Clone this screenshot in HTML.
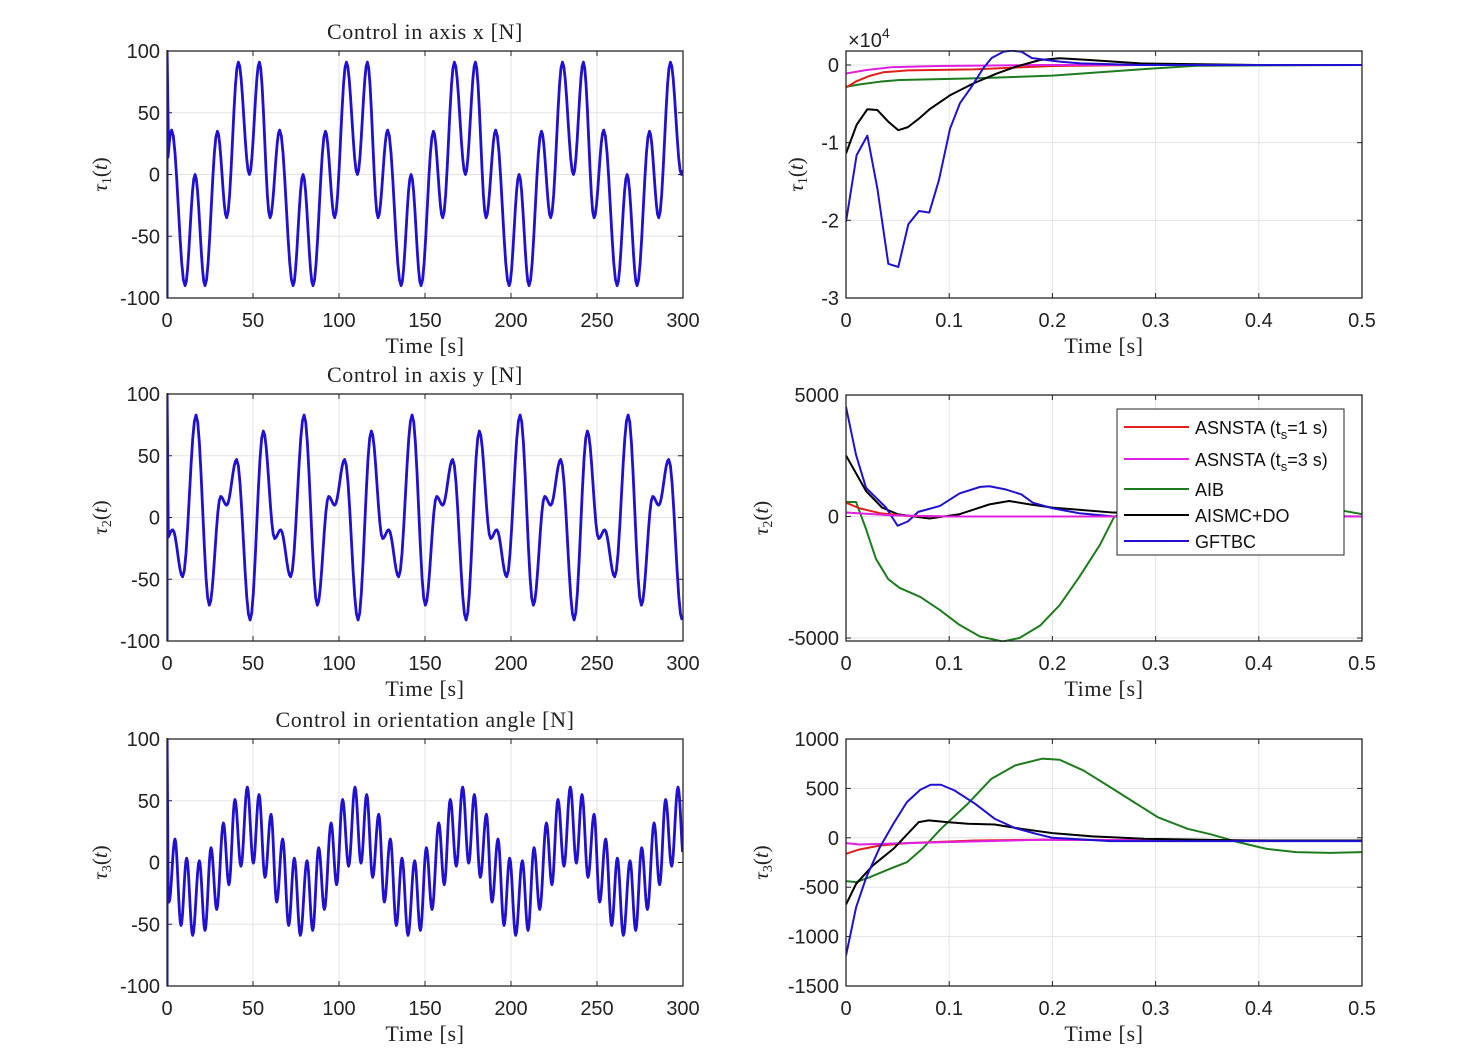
<!DOCTYPE html>
<html><head><meta charset="utf-8"><style>
body{margin:0;background:#fff;}
svg{display:block;}
text{font-family:"Liberation Sans",sans-serif;}
.serif{font-family:"Liberation Serif",serif;}
</style></head><body>
<svg id="fig" width="1467" height="1058" viewBox="0 0 1467 1058" xmlns="http://www.w3.org/2000/svg">
<rect width="1467" height="1058" fill="#fff"/>
</svg>
<script>
// ---- Left plots: one period of extrema (t, value), tiled by period
const ext1T=[2.7,10.5,16.3,22.1,29.3,34.7,41.5,47.9,53.7,59.9];
const ext1V=[36,-90,0,-90,35,-35,91,0,91,-35];
const ext2T=[3.3,9.1,16.9,24.6,31.2,34.7,40.5,48.3,56.0,62.6];
const ext2V=[-10,-48,83,-71,17,10,47,-83,70,-17];
const ext3T=[4.65,8.14,11.43,14.92,18.8,22.1,25.6,28.9,32.8,36.0,39.5,43.0,46.7,50.2,53.5,56.97,60.5,63.76];
const ext3V=[19,-51,3.5,-59,1.4,-55,12,-38,32,-18,51,-3,61,-0.5,55,-12,39,-32];
const periods=[62.8,62.8,62.6];
const leftTicksX=[0,50,100,150,200,250,300];
const leftTicksY=[-100,-50,0,50,100];
const rightTicksX=[0,0.1,0.2,0.3,0.4,0.5];
const r1TicksY=[-3,-2,-1,0];
const r2TicksY=[-5000,0,5000];
const r3TicksY=[-1500,-1000,-500,0,500,1000];
// ---- Right top (x1e4)
const r1BlueT=[0,0.0103,0.0207,0.0304,0.041,0.0507,0.0604,0.0707,0.0807,0.0901,0.1008,0.1105,0.1217,0.1331,0.1411,0.1525,0.16,0.1702,0.18,0.1944,0.207,0.227,0.285,0.5];
const r1BlueV=[-2.02,-1.16,-0.91,-1.59,-2.56,-2.6,-2.05,-1.88,-1.9,-1.48,-0.82,-0.49,-0.28,-0.04,0.09,0.17,0.185,0.17,0.09,0.064,0.043,0.02,0,0];
const r1BlackT=[0,0.0103,0.0207,0.0304,0.041,0.0507,0.06,0.0707,0.081,0.1008,0.123,0.146,0.165,0.188,0.207,0.236,0.285,0.4,0.5];
const r1BlackV=[-1.14,-0.77,-0.57,-0.58,-0.73,-0.84,-0.8,-0.69,-0.57,-0.39,-0.24,-0.11,-0.02,0.064,0.086,0.064,0.02,0,0];
const r1RedT=[0,0.01,0.023,0.036,0.06,0.124,0.2,0.285,0.5];
const r1RedV=[-0.29,-0.21,-0.14,-0.094,-0.07,-0.056,-0.013,0,0];
const r1MagT=[0,0.02,0.043,0.09,0.19,0.5];
const r1MagV=[-0.11,-0.065,-0.03,-0.013,0,0];
const r1GreenT=[0,0.0135,0.033,0.052,0.123,0.2,0.246,0.285,0.34,0.5];
const r1GreenV=[-0.28,-0.25,-0.215,-0.193,-0.172,-0.137,-0.094,-0.056,-0.01,0];
// ---- Right middle
const r2BlueT=[0,0.0097,0.0194,0.0388,0.05,0.06,0.07,0.091,0.11,0.13,0.139,0.155,0.17,0.181,0.2,0.226,0.26,0.5];
const r2BlueV=[4510,2540,1180,366,-380,-200,190,435,950,1220,1245,1110,910,570,340,136,0,0];
const r2BlackT=[0,0.0194,0.035,0.05,0.081,0.11,0.139,0.158,0.178,0.2,0.259,0.35,0.5];
const r2BlackV=[2510,1050,366,95,-80,95,500,640,500,366,163,60,0];
const r2RedT=[0,0.013,0.033,0.058,0.1,0.5];
const r2RedV=[570,340,136,27,0,0];
const r2MagT=[0,0.0426,0.1,0.5];
const r2MagV=[163,54,0,0];
const r2GreenT=[0,0.0097,0.0194,0.029,0.041,0.052,0.072,0.091,0.11,0.13,0.152,0.168,0.188,0.207,0.226,0.246,0.26,0.3,0.4,0.48,0.5];
const r2GreenV=[600,600,-515,-1740,-2580,-2940,-3310,-3850,-4460,-4940,-5140,-5000,-4490,-3650,-2490,-1170,0,500,600,250,100];
// ---- Right bottom
const r3BlueT=[0,0.0098,0.0197,0.0328,0.0459,0.059,0.072,0.082,0.092,0.105,0.125,0.144,0.164,0.184,0.2,0.256,0.5];
const r3BlueV=[-1192,-703,-399,-95,142,361,486,537,537,480,345,193,98,41,0,-34,-34];
const r3BlackT=[0,0.0098,0.026,0.046,0.0705,0.08,0.098,0.118,0.144,0.17,0.2,0.239,0.289,0.387,0.5];
const r3BlackV=[-676,-466,-280,-111,159,176,159,142,135,91,47,14,-10,-27,-27];
const r3RedT=[0,0.013,0.033,0.059,0.125,0.19,0.5];
const r3RedV=[-162,-118,-78,-54,-27,-20,-30];
const r3MagT=[0,0.013,0.059,0.19,0.5];
const r3MagV=[-54,-68,-54,-20,-30];
const r3GreenT=[0,0.0098,0.023,0.0426,0.059,0.074,0.092,0.118,0.141,0.164,0.19,0.207,0.23,0.256,0.279,0.302,0.331,0.354,0.38,0.407,0.436,0.469,0.5];
const r3GreenV=[-439,-449,-399,-314,-247,-111,91,345,598,733,801,790,682,513,361,209,91,34,-44,-111,-145,-152,-145];

const C={red:"#e0201a",mag:"#e020e0",green:"#1e7b1e",black:"#000",blue:"#2010d0"};
const NS="http://www.w3.org/2000/svg";
const svg=document.getElementById('fig');
function el(tag,attrs,parent){const e=document.createElementNS(NS,tag);for(const k in attrs)e.setAttribute(k,attrs[k]);(parent||svg).appendChild(e);return e;}

function makeAxes(name,x0,x1,y0,y1,xmin,xmax,ymin,ymax,xt,yt,xfmt,yfmt){
  const g=el('g',{});
  
  
  const sx=v=>x0+(v-xmin)/(xmax-xmin)*(x1-x0);
  const sy=v=>y1-(v-ymin)/(ymax-ymin)*(y1-y0);
  const grid=el('g',{},g);
  
  
  xt.forEach(v=>{el('line',{x1:sx(v),x2:sx(v),y1:y0,y2:y1,stroke:'#e3e3e3','stroke-width':1},grid);});
  yt.forEach(v=>{el('line',{x1:x0,x2:x1,y1:sy(v),y2:sy(v),stroke:'#e3e3e3','stroke-width':1},grid);});
  const xa=el('g',{},g);
  
  
  xt.forEach(v=>{
    el('line',{x1:sx(v),x2:sx(v),y1:y1,y2:y1-5,stroke:'#222'},xa);
    el('line',{x1:sx(v),x2:sx(v),y1:y0,y2:y0+5,stroke:'#222'},xa);
    const t=el('text',{x:sx(v),y:y1+29,'text-anchor':'middle','font-size':20,fill:'#222'},xa);t.textContent=xfmt(v);
  });
  const ya=el('g',{},g);
  
  
  yt.forEach(v=>{
    el('line',{x1:x0,x2:x0+5,y1:sy(v),y2:sy(v),stroke:'#222'},ya);
    el('line',{x1:x1,x2:x1-5,y1:sy(v),y2:sy(v),stroke:'#222'},ya);
    const t=el('text',{x:x0-7,y:sy(v)+7,'text-anchor':'end','font-size':20,fill:'#222'},ya);t.textContent=yfmt(v);
  });
  const plot=el('g',{},g);
  
  
  const clip=el('clipPath',{id:name+'-clip'},g);
  el('rect',{x:x0,y:y0-1,width:x1-x0,height:y1-y0+2},clip);
  plot.setAttribute('clip-path','url(#'+name+'-clip)');
  const box=el('rect',{x:x0,y:y0,width:x1-x0,height:y1-y0,fill:'none',stroke:'#262626','stroke-width':1.3},g);
  
  
  return {g,plot,sx,sy};
}
function drawLine(ax,name,T,V,color,w){
  const d=T.map((t,i)=>(i?'L':'M')+ax.sx(t).toFixed(2)+','+ax.sy(V[i]).toFixed(2)).join('');
  const p=el('path',{d:d,fill:'none',stroke:color,'stroke-width':w,'stroke-linejoin':'round'},ax.plot);
  
  
}
function periodicSeries(ET,EV,P,tmax){
  const T=[],V=[];const n=ET.length;
  const ts=[],vs=[];
  for(let k=-1;k*P<tmax+P;k++){for(let i=0;i<n;i++){ts.push(ET[i]+k*P);vs.push(EV[i]);}}
  for(let i=0;i<ts.length-1;i++){
    const a=ts[i],b=ts[i+1];
    for(let j=0;j<8;j++){const f=j/8;const t=a+(b-a)*f;if(t<0.3||t>tmax)continue;T.push(t);V.push(vs[i]+(vs[i+1]-vs[i])*(1-Math.cos(Math.PI*f))/2);}
  }
  return [T,V];
}
function txt(name,x,y,s,opts){const t=el('text',Object.assign({x:x,y:y},opts||{}));t.innerHTML=s;return t;}

const rows=[[51,298],[394,641],[739,986]];
const titles=['Control in axis x [N]','Control in axis y [N]','Control in orientation angle [N]'];
const exts=[[ext1T,ext1V],[ext2T,ext2V],[ext3T,ext3V]];
const startV=[[-100,100,36],[-100,100,-10],[-100,100,-30]];
const serifOpts={'text-anchor':'middle','font-size':22,class:'serif',fill:'#222','letter-spacing':'0.6'};
rows.forEach((r,i)=>{
  const ax=makeAxes('left-chart-'+(i+1),167,683,r[0],r[1],0,300,-100,100,leftTicksX,leftTicksY,v=>String(v),v=>String(v));
  const [T,V]=periodicSeries(exts[i][0],exts[i][1],periods[i],300);
  drawLine(ax,'tau'+(i+1)+'-spike',[0.15,0.15,0.8],startV[i],C.blue,2.5);
  drawLine(ax,'tau'+(i+1)+'-series',[0.8].concat(T),[startV[i][2]].concat(V),C.blue,2.8);
  txt('left-title-'+(i+1),425,r[0]-12,titles[i],serifOpts);
  txt('left-x-title-'+(i+1),425,r[1]+55,'Time [s]',serifOpts);
  txt('left-y-title-'+(i+1),0,0,'<tspan font-style="italic">τ</tspan><tspan font-size="14" dy="4">'+(i+1)+'</tspan><tspan dy="-4">(</tspan><tspan font-style="italic">t</tspan>)',{'text-anchor':'middle','font-size':21,class:'serif',fill:'#222',transform:'translate('+(107)+','+((r[0]+r[1])/2)+') rotate(-90)'});
});
const rdefs=[
 {min:-3,max:0.18,ticks:r1TicksY,fmt:v=>String(v),y0:51,y1:298,ser:[[r1GreenT,r1GreenV,'green'],[r1RedT,r1RedV,'red'],[r1MagT,r1MagV,'mag'],[r1BlackT,r1BlackV,'black'],[r1BlueT,r1BlueV,'blue']]},
 {min:-5122,max:5000,ticks:r2TicksY,fmt:v=>String(v),y0:395,y1:641,ser:[[r2GreenT,r2GreenV,'green'],[r2BlackT,r2BlackV,'black'],[r2BlueT,r2BlueV,'blue'],[r2RedT,r2RedV,'red'],[r2MagT,r2MagV,'mag']]},
 {min:-1500,max:1000,ticks:r3TicksY,fmt:v=>String(v),y0:739,y1:986,ser:[[r3GreenT,r3GreenV,'green'],[r3RedT,r3RedV,'red'],[r3MagT,r3MagV,'mag'],[r3BlackT,r3BlackV,'black'],[r3BlueT,r3BlueV,'blue']]}
];
rdefs.forEach((d,i)=>{
  const ax=makeAxes('right-chart-'+(i+1),846,1362,d.y0,d.y1,0,0.5,d.min,d.max,rightTicksX,d.ticks,v=>String(v),d.fmt);
  d.ser.forEach(s=>drawLine(ax,'right'+(i+1)+'-'+s[2]+'-line',s[0],s[1],C[s[2]],2));
  txt('right-x-title-'+(i+1),1104,d.y1+55,'Time [s]',serifOpts);
  const xl=i===0?803:768;
  txt('right-y-title-'+(i+1),0,0,'<tspan font-style="italic">τ</tspan><tspan font-size="14" dy="4">'+(i+1)+'</tspan><tspan dy="-4">(</tspan><tspan font-style="italic">t</tspan>)',{'text-anchor':'middle','font-size':21,class:'serif',fill:'#222',transform:'translate('+xl+','+((d.y0+d.y1)/2)+') rotate(-90)'});
});
txt('exponent-label',848,47,'×10<tspan font-size="14" dy="-9">4</tspan>',{'font-size':20,fill:'#222'});
// legend
const lg=el('g',{});


el('rect',{x:1117,y:409,width:227,height:146,fill:'#fff',stroke:'#262626','stroke-width':1},lg);
const legNames=['ASNSTA (t<tspan font-size="13" dy="5">s</tspan><tspan dy="-5">=1 s)</tspan>','ASNSTA (t<tspan font-size="13" dy="5">s</tspan><tspan dy="-5">=3 s)</tspan>','AIB','AISMC+DO','GFTBC'];
const legColors=[C.red,C.mag,C.green,C.black,C.blue];
const legY=[427,459,489,515,541];
legNames.forEach((n,i)=>{
  const e=el('g',{},lg);
  
  
  el('line',{x1:1124,x2:1189,y1:legY[i],y2:legY[i],stroke:legColors[i],'stroke-width':2},e);
  const t=el('text',{x:1195,y:legY[i]+7,'font-size':18,fill:'#111'},e);t.innerHTML=n;
});
</script>
</body></html>
